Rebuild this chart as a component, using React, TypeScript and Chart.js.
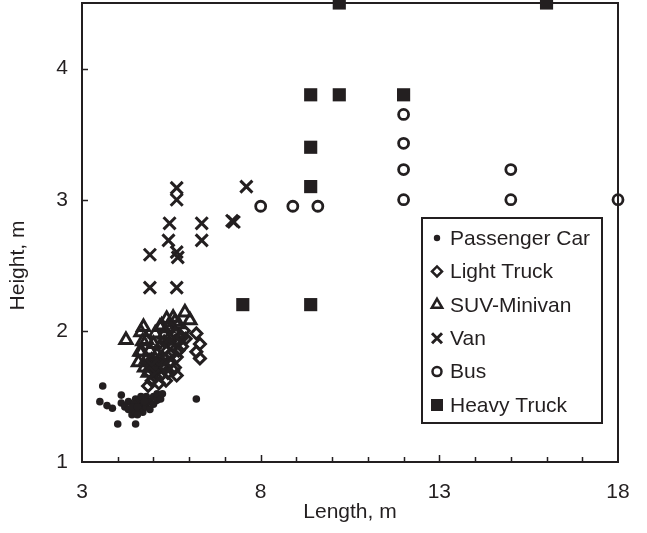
import React, { useEffect, useRef } from 'react';
import { Chart, registerables } from 'chart.js';

Chart.register(...registerables);

// ---- Data (length m, height m) ----
const passengerCar: [number, number][] = [
  [3.58, 1.58], [3.5, 1.46], [3.7, 1.43], [3.85, 1.41], [4.0, 1.29], [4.5, 1.29],
  [4.1, 1.51], [4.1, 1.45], [4.3, 1.46], [4.2, 1.42], [4.35, 1.4], [4.4, 1.36],
  [4.5, 1.38], [4.6, 1.45], [4.5, 1.48], [4.7, 1.43], [4.7, 1.38], [4.8, 1.5],
  [4.8, 1.42], [4.9, 1.46], [4.9, 1.4], [5.0, 1.44], [5.0, 1.5], [5.1, 1.47],
  [5.1, 1.52], [5.2, 1.48], [4.6, 1.4], [4.45, 1.44], [6.2, 1.48], [4.3, 1.4],
  [4.55, 1.36], [4.65, 1.5], [5.25, 1.52], [4.4, 1.42], [4.55, 1.42], [4.75, 1.46],
];
const lightTruck: [number, number][] = [
  [6.2, 1.98], [6.3, 1.9], [6.2, 1.84], [6.3, 1.79], [4.85, 1.58], [4.95, 1.62],
  [5.05, 1.65], [5.1, 1.7], [5.2, 1.66], [5.25, 1.74], [5.25, 1.8], [5.3, 1.86],
  [5.3, 1.92], [5.4, 1.68], [5.45, 1.75], [5.5, 1.82], [5.55, 1.88], [5.6, 1.72],
  [5.65, 1.8], [5.7, 1.85], [5.7, 1.92], [5.75, 1.96], [5.8, 1.88], [5.85, 2.0],
  [5.9, 1.94], [5.5, 2.02], [5.6, 1.98], [5.35, 1.62], [5.15, 1.6], [5.0, 1.7],
  [4.9, 1.68], [5.05, 1.75], [5.15, 1.78], [5.4, 1.8], [5.45, 1.9], [5.55, 1.7],
  [5.65, 1.66], [5.2, 1.88], [4.95, 1.78], [5.6, 1.92], [5.8, 1.95], [5.35, 1.72],
];
const suvMinivan: [number, number][] = [
  [4.23, 1.93], [4.65, 1.99], [4.72, 2.03], [4.81, 1.93], [4.67, 1.84], [4.58, 1.76],
  [4.62, 1.84], [4.95, 1.77], [5.18, 2.03], [5.37, 2.09], [5.23, 2.04], [5.55, 2.1],
  [5.6, 2.07], [5.88, 2.14], [6.02, 2.08], [5.0, 1.9], [4.75, 1.72], [4.85, 1.68],
  [5.1, 1.82], [5.3, 1.97], [4.9, 1.85], [5.45, 1.95], [5.7, 2.05], [4.8, 1.78],
  [4.7, 1.92], [5.05, 1.98], [5.4, 2.02], [4.9, 1.72],
];
const van: [number, number][] = [
  [5.65, 3.09], [5.65, 3.0], [7.6, 3.1], [5.45, 2.82], [6.35, 2.82], [7.2, 2.84],
  [7.25, 2.83], [5.42, 2.69], [6.35, 2.69], [4.9, 2.58], [5.65, 2.6], [5.68, 2.56],
  [4.9, 2.33], [5.65, 2.33],
];
const bus: [number, number][] = [
  [8.0, 2.95], [8.9, 2.95], [9.6, 2.95], [12.0, 3.65], [12.0, 3.43], [12.0, 3.23],
  [12.0, 3.0], [15.0, 3.23], [15.0, 3.0], [18.0, 3.0],
];
const heavyTruck: [number, number][] = [
  [10.2, 4.5], [16.0, 4.5], [9.4, 3.8], [10.2, 3.8], [12.0, 3.8], [9.4, 3.4],
  [9.4, 3.1], [7.5, 2.2], [9.4, 2.2],
];

const seriesNames = ['Passenger Car', 'Light Truck', 'SUV-Minivan', 'Van', 'Bus', 'Heavy Truck'];
const xLabelValues = [3, 8, 13, 18];
const xMinorValues = [4, 5, 6, 7, 8, 9, 10, 11, 12, 13, 14, 15, 16, 17];
const yTickValues = [1, 2, 3, 4];
const X_MIN = 3, X_MAX = 18, Y_MIN = 1, Y_MAX = 4.5;
const X_TITLE = 'Length, m';
const Y_TITLE = 'Height, m';

const INK = '#231f20';
const FONT = "'Liberation Sans', Arial, Helvetica, sans-serif";
const FS = 21;

const toPts = (arr: [number, number][]) => arr.map(([x, y]) => ({ x, y }));

function drawSymbol(ctx: CanvasRenderingContext2D, kind: number, x: number, y: number) {
  ctx.save();
  ctx.strokeStyle = INK;
  ctx.fillStyle = INK;
  ctx.lineWidth = 2.5;
  ctx.beginPath();
  if (kind === 0) {
    ctx.arc(x, y, 3.2, 0, Math.PI * 2);
    ctx.fill();
  } else if (kind === 1) {
    const r = 5;
    ctx.moveTo(x - r, y); ctx.lineTo(x, y - r); ctx.lineTo(x + r, y); ctx.lineTo(x, y + r);
    ctx.closePath(); ctx.stroke();
  } else if (kind === 2) {
    const r = 6;
    ctx.moveTo(x, y - r);
    ctx.lineTo(x + r * Math.sin(2 * Math.PI / 3), y - r * Math.cos(2 * Math.PI / 3));
    ctx.lineTo(x + r * Math.sin(4 * Math.PI / 3), y - r * Math.cos(4 * Math.PI / 3));
    ctx.closePath(); ctx.stroke();
  } else if (kind === 3) {
    const r = 5;
    ctx.lineWidth = 3;
    ctx.moveTo(x - r, y - r); ctx.lineTo(x + r, y + r);
    ctx.moveTo(x + r, y - r); ctx.lineTo(x - r, y + r);
    ctx.stroke();
  } else if (kind === 4) {
    ctx.arc(x, y, 4.5, 0, Math.PI * 2);
    ctx.stroke();
  } else {
    ctx.fillRect(x - 6, y - 6, 12, 12);
  }
  ctx.restore();
}

const framePlugin = {
  id: 'frameAndTicks',
  afterDatasetsDraw(chart: any) {
    const { ctx, chartArea } = chart;
    const xs = chart.scales.x;
    const ys = chart.scales.y;
    ctx.save();
    ctx.strokeStyle = INK;
    ctx.lineWidth = 2;
    ctx.strokeRect(chartArea.left, chartArea.top, chartArea.right - chartArea.left, chartArea.bottom - chartArea.top);
    ctx.lineWidth = 1.5;
    ctx.beginPath();
    xMinorValues.forEach((v) => {
      const px = Math.round(xs.getPixelForValue(v)) + 0.5;
      const len = xLabelValues.includes(v) ? 7 : 5;
      ctx.moveTo(px, chartArea.bottom);
      ctx.lineTo(px, chartArea.bottom - len);
    });
    yTickValues.forEach((v) => {
      if (v === Y_MIN) return;
      const py = Math.round(ys.getPixelForValue(v)) + 0.5;
      ctx.moveTo(chartArea.left, py);
      ctx.lineTo(chartArea.left + 6, py);
    });
    ctx.stroke();
    ctx.restore();
  },
  afterDraw(chart: any) {
    const { ctx, chartArea } = chart;
    // y-axis title (placed slightly below the axis centre, as in the source)
    ctx.save();
    ctx.font = `${FS}px ${FONT}`;
    ctx.fillStyle = INK;
    ctx.textAlign = 'center';
    ctx.textBaseline = 'middle';
    ctx.translate(18, (chartArea.top + chartArea.bottom) / 2 + 33);
    ctx.rotate(-Math.PI / 2);
    ctx.fillText(Y_TITLE, 0, 0);
    ctx.restore();

    const bx = chartArea.right - 196;
    const by = chartArea.top + 215;
    const bw = 180;
    const bh = 205;
    ctx.save();
    ctx.fillStyle = '#ffffff';
    ctx.fillRect(bx, by, bw, bh);
    ctx.strokeStyle = INK;
    ctx.lineWidth = 2;
    ctx.strokeRect(bx, by, bw, bh);
    ctx.font = `${FS}px ${FONT}`;
    ctx.textBaseline = 'middle';
    ctx.textAlign = 'left';
    seriesNames.forEach((name, i) => {
      const cy = by + 20 + i * 33.4;
      drawSymbol(ctx, i, bx + 15, cy);
      ctx.fillStyle = INK;
      ctx.fillText(name, bx + 28, cy + 1);
    });
    ctx.restore();
  },
};

export default function App() {
  const ref = useRef<HTMLCanvasElement | null>(null);
  useEffect(() => {
    if (!ref.current) return;
    Chart.defaults.font.family = FONT;
    Chart.defaults.color = INK;
    const base = { showLine: false, clip: false as any, borderColor: INK };
    const chart = new Chart(ref.current, {
      type: 'scatter',
      data: {
        datasets: [
          { ...base, label: seriesNames[0], data: toPts(passengerCar), pointStyle: 'circle', pointRadius: 3.8, pointBackgroundColor: INK, pointBorderWidth: 0 },
          { ...base, label: seriesNames[1], data: toPts(lightTruck), pointStyle: 'rectRot', pointRadius: 5.5, pointBackgroundColor: 'rgba(0,0,0,0)', pointBorderColor: INK, pointBorderWidth: 3 },
          { ...base, label: seriesNames[2], data: toPts(suvMinivan), pointStyle: 'triangle', pointRadius: 7, pointBackgroundColor: 'rgba(0,0,0,0)', pointBorderColor: INK, pointBorderWidth: 3 },
          { ...base, label: seriesNames[3], data: toPts(van), pointStyle: 'crossRot', pointRadius: 8.5, pointBorderColor: INK, pointBorderWidth: 3 },
          { ...base, label: seriesNames[4], data: toPts(bus), pointStyle: 'circle', pointRadius: 5, pointBackgroundColor: 'rgba(0,0,0,0)', pointBorderColor: INK, pointBorderWidth: 2.8 },
          { ...base, label: seriesNames[5], data: toPts(heavyTruck), pointStyle: 'rect', pointRadius: 9.3, pointBackgroundColor: INK, pointBorderWidth: 0 },
        ] as any,
      },
      options: {
        animation: false,
        responsive: false,
        events: [],
        layout: { autoPadding: false, padding: { top: 3, right: 29, left: 0, bottom: 0 } },
        plugins: { legend: { display: false }, tooltip: { enabled: false } },
        scales: {
          x: {
            type: 'linear',
            min: X_MIN,
            max: X_MAX,
            grid: { display: false, drawTicks: false },
            border: { display: false },
            afterBuildTicks: (s: any) => { s.ticks = xLabelValues.map((v) => ({ value: v })); },
            afterFit: (s: any) => { s.height = 71; s.paddingLeft = 0; s.paddingRight = 0; },
            ticks: { padding: 18, font: { size: FS }, color: INK, maxRotation: 0, autoSkip: false },
            title: { display: true, text: X_TITLE, font: { size: FS }, color: INK, padding: { top: 0, bottom: 8 } },
          },
          y: {
            type: 'linear',
            min: Y_MIN,
            max: Y_MAX,
            grid: { display: false, drawTicks: false },
            border: { display: false },
            afterBuildTicks: (s: any) => { s.ticks = yTickValues.map((v) => ({ value: v })); },
            afterFit: (s: any) => { s.width = 82; s.paddingTop = 0; s.paddingBottom = 0; },
            ticks: { padding: 14, font: { size: FS }, color: INK },
            title: { display: false },
          },
        },
      },
      plugins: [framePlugin],
    });
    return () => chart.destroy();
  }, []);
  return (
    <div style={{ position: 'fixed', left: 0, top: 0, width: 647, height: 533, background: '#fff' }}>
      <canvas ref={ref} width={647} height={533} style={{ display: 'block' }} />
    </div>
  );
}
